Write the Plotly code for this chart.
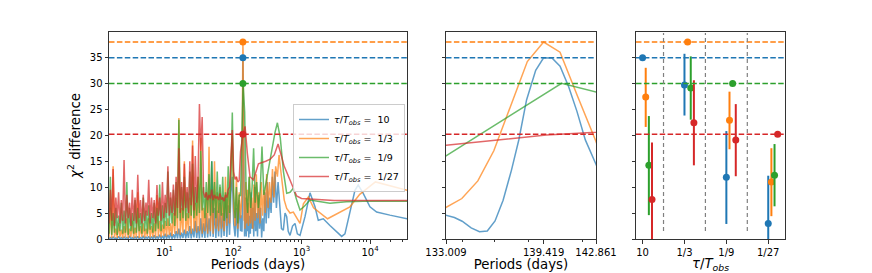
import plotly.graph_objects as go

# ---------------- data ----------------
series_labels = ["10", "1/3", "1/9", "1/27"]
colors = ["#1f77b4", "#ff7f0e", "#2ca02c", "#d62728"]
ref_period = 139.419
ref_chi2 = [34.94, 37.97, 29.97, 20.18]  # blue, orange, green, red

dense_periods = [1.549, 1.622, 1.698, 1.778, 1.862, 1.950, 2.042, 2.138, 2.239, 2.344,
                 2.455, 2.570, 2.692, 2.818, 2.951, 3.090, 3.236, 3.388, 3.548, 3.715,
                 3.890, 4.074, 4.266, 4.467, 4.677, 4.898, 5.129, 5.370, 5.623, 5.888,
                 6.166, 6.457, 6.761, 7.079, 7.413, 7.762, 8.128, 8.511, 8.913, 9.333,
                 9.772, 10.23, 10.72, 11.22, 11.75, 12.30, 12.88, 13.49, 14.13, 14.79,
                 15.49, 16.22, 16.98, 17.78, 18.62, 19.50, 20.42, 21.38, 22.39, 23.44,
                 24.55, 25.70, 26.92, 28.18, 29.51, 30.90, 32.36, 33.88, 35.48, 37.15,
                 38.90, 40.74, 42.66, 44.67, 46.77, 48.98, 51.29, 53.70, 56.23, 58.88,
                 61.66, 64.57, 67.61, 70.79, 74.13, 77.62, 81.28, 85.11, 89.13, 93.33,
                 97.72, 102.3, 107.2, 112.2, 117.5, 123.0, 128.8]

blue_dense = [0.05, 0.3, 0.02, 0.4, 0.05, 0.2, 0.03, 0.5, 0.05, 0.3,
              0.02, 0.4, 0.05, 0.3, 0.03, 0.6, 0.05, 0.3, 0.02, 0.4,
              0.05, 0.5, 0.03, 0.3, 0.05, 0.6, 0.02, 0.4, 0.05, 0.5,
              0.03, 0.4, 0.05, 0.7, 0.03, 0.5, 0.05, 0.8, 0.03, 0.6,
              0.05, 1.0, 0.05, 0.8, 0.1, 1.2, 0.05, 0.9, 0.1, 1.5,
              0.1, 2.0, 0.1, 1.2, 0.2, 1.8, 0.1, 1.5, 0.2, 2.5,
              0.1, 2.0, 0.3, 3.5, 0.2, 2.5, 0.1, 4.0, 0.3, 3.0,
              0.2, 5.0, 0.3, 4.0, 0.5, 15.0, 0.4, 6.0, 0.2, 5.5,
              0.5, 7.0, 0.3, 5.0, 0.6, 8.0, 0.4, 6.5, 0.8, 9.0,
              12.0, 3.0, 0.5, 6.0, 0.3, 7.5, 1.5]
orange_dense = [0.3, 6.0, 0.2, 14.0, 0.3, 2.0, 0.2, 3.0, 0.4, 1.8,
                0.2, 2.5, 0.3, 4.0, 0.2, 2.0, 0.4, 3.5, 0.2, 2.2,
                0.3, 9.0, 0.2, 2.5, 0.4, 3.0, 0.3, 2.0, 0.5, 4.0,
                0.3, 2.5, 0.4, 3.0, 0.3, 8.5, 0.5, 3.5, 0.4, 2.8,
                0.6, 3.5, 0.5, 4.0, 0.8, 3.0, 0.6, 5.0, 1.0, 8.0,
                1.0, 23.3, 0.8, 6.0, 1.2, 15.0, 1.0, 5.0, 1.5, 8.0,
                1.0, 19.0, 1.5, 7.0, 1.2, 12.0, 1.5, 19.5, 1.0, 6.0,
                1.5, 9.0, 1.0, 17.8, 1.5, 8.0, 1.0, 15.0, 2.0, 9.0,
                1.5, 10.0, 2.0, 8.0, 1.5, 12.0, 2.5, 9.0, 3.0, 15.0,
                20.0, 6.0, 2.5, 12.0, 2.0, 9.0, 4.0]
green_dense = [1.0, 12.0, 0.8, 5.0, 1.2, 6.0, 0.8, 4.5, 1.5, 7.0,
               1.0, 5.5, 1.2, 11.0, 0.8, 6.0, 1.5, 5.0, 1.0, 7.5,
               1.2, 6.0, 1.5, 5.0, 1.0, 8.0, 1.5, 5.5, 1.0, 6.5,
               1.8, 5.0, 1.2, 7.0, 1.5, 6.0, 2.0, 10.5, 1.5, 6.5,
               2.0, 7.0, 2.5, 13.0, 2.5, 8.0, 3.0, 9.5, 2.5, 11.0,
               4.0, 23.0, 3.5, 10.0, 4.0, 12.0, 3.5, 9.0, 4.0, 13.0,
               4.5, 14.5, 4.0, 10.0, 4.5, 12.0, 5.0, 17.0, 5.5, 10.0,
               4.0, 11.0, 5.0, 12.5, 4.5, 15.0, 5.0, 11.0, 4.0, 13.0,
               5.0, 10.5, 4.5, 12.0, 3.5, 9.0, 4.0, 14.0, 5.0, 12.0,
               24.4, 9.0, 4.0, 10.0, 3.0, 8.5, 8.3]
red_dense = [3.0, 9.5, 3.5, 13.5, 2.5, 8.0, 4.0, 9.0, 3.0, 7.5,
             3.5, 15.2, 3.0, 8.5, 4.0, 7.0, 2.5, 9.5, 3.5, 8.0,
             3.0, 12.4, 4.0, 7.5, 3.0, 8.5, 3.5, 7.0, 4.5, 11.4,
             3.0, 8.0, 4.0, 7.5, 3.0, 10.4, 4.5, 8.0, 3.5, 11.0,
             4.0, 8.5, 5.0, 14.0, 4.5, 9.0, 5.0, 10.5, 4.5, 12.0,
             6.0, 17.5, 5.0, 11.0, 5.5, 14.5, 6.0, 10.0, 5.0, 15.0,
             6.5, 18.0, 5.5, 16.0, 7.0, 11.5, 26.0, 17.0, 23.5, 9.0,
             8.0, 9.0, 7.5, 8.5, 7.8, 9.5, 7.5, 8.5, 7.8, 8.2,
             7.5, 8.8, 7.6, 8.0, 7.3, 8.5, 8.0, 9.5, 10.0, 14.5,
             21.0, 13.0, 11.5, 12.0, 11.0, 11.3, 16.8]

blue_peak_periods = [133.01, 133.56, 134.07, 134.66, 135.21, 135.72, 136.23, 136.76, 137.31, 137.79,
                     138.30, 138.90, 139.42, 139.97, 140.50, 141.06, 141.61, 142.16, 142.86]
blue_peak_chi2 = [4.58, 4.13, 3.42, 2.13, 1.42, 1.55, 3.48, 7.48, 13.28, 19.08,
                  26.8, 32.5, 34.94, 34.9, 33.3, 29.4, 24.6, 19.1, 14.4]
orange_peak_periods = [133.0, 134.05, 135.1, 136.15, 137.25, 138.35, 139.42, 140.5, 141.65, 142.86]
orange_peak_chi2 = [6.06, 7.8, 11.2, 17.0, 25.5, 34.2, 37.97, 36.0, 27.5, 18.8]
green_peak_periods = [140.6, 148.0]
green_peak_chi2 = [30.0, 24.5]
red_peak_periods = [139.6, 150.0]
red_peak_chi2 = [20.05, 21.7]

blue_tail_periods = [143.4, 144.0, 144.6, 145.3, 146.0, 147.5, 149.0, 151.0, 153.0, 156.0,
                     159.0, 162.0, 166.0, 170.0, 174.0, 179.0, 184.0, 189.0, 195.0, 201.0,
                     207.0, 214.0, 221.0, 228.0, 236.0, 244.0, 253.0, 262.0, 272.0, 282.0,
                     293.0, 305.0, 318.0, 331.0, 345.0, 360.0, 375.0, 392.0, 410.0, 430.0,
                     455.0, 486.0, 510.0, 543.0, 575.0, 608.0, 640.0, 680.0, 740.0, 804.0,
                     870.0, 951.0, 1040.0, 1125.0, 1330.0, 1574.0, 1758.0, 2080.0, 2600.0, 3260.0,
                     3855.0, 4305.0, 5090.0, 6030.0, 6730.0, 7960.0, 9980.0, 12500.0, 19500.0, 35000.0]
blue_tail_chi2 = [10.5, 6.0, 3.0, 1.0, 4.0, 0.5, 6.0, 1.0, 8.0, 0.5,
                  5.0, 1.5, 7.0, 0.3, 4.5, 1.0, 9.0, 2.0, 6.0, 0.5,
                  10.0, 1.5, 5.0, 0.5, 8.5, 2.0, 6.0, 0.3, 4.0, 1.5,
                  9.0, 3.0, 11.0, 4.0, 8.0, 5.0, 12.0, 7.0, 13.0, 6.0,
                  11.0, 5.5, 2.0, 1.7, 5.0, 4.3, 1.5, 0.7, 2.5, 3.0,
                  1.0, 0.7, 2.5, 4.3, 8.9, 6.2, 3.6, 3.9, 2.6, 1.4,
                  0.5, 1.0, 5.0, 9.4, 10.4, 8.8, 6.2, 5.2, 4.6, 3.9]
orange_tail_periods = [144.0, 145.1, 147.0, 150.0, 154.0, 158.0, 163.0, 168.0, 174.0, 180.0,
                       187.0, 194.0, 202.0, 210.0, 219.0, 228.0, 238.0, 248.0, 259.0, 270.0,
                       283.0, 296.0, 310.0, 325.0, 341.0, 358.0, 377.0, 397.0, 420.0, 445.0,
                       470.0, 495.0, 525.0, 560.0, 608.0, 680.0, 760.0, 850.0, 951.0, 1065.0,
                       1260.0, 1500.0, 2400.0, 5090.0, 7080.0, 12000.0, 35000.0]
orange_tail_chi2 = [9.0, 3.5, 8.0, 2.0, 11.0, 3.0, 9.5, 2.5, 12.0, 3.0,
                    8.0, 2.0, 10.5, 3.5, 12.5, 4.0, 9.0, 3.0, 11.0, 4.5,
                    9.5, 5.0, 12.5, 6.0, 11.0, 7.0, 13.5, 8.0, 14.0, 12.0,
                    16.2, 13.5, 10.5, 7.5, 5.9, 5.0, 5.2, 4.2, 3.0, 6.8,
                    8.1, 6.0, 3.9, 6.2, 8.6, 11.0, 9.4]
green_tail_periods = [155.5, 163.0, 172.0, 181.0, 190.0, 200.0, 211.0, 222.0, 235.0, 250.0,
                      265.0, 282.0, 300.0, 320.0, 345.0, 375.0, 410.0, 445.0, 490.0, 545.0,
                      608.0, 680.0, 760.0, 850.0, 951.0, 1100.0, 1330.0, 2600.0, 4500.0, 8000.0,
                      35000.0]
green_tail_chi2 = [9.0, 5.0, 12.0, 6.0, 10.0, 17.5, 7.0, 11.0, 6.0, 9.5,
                   17.8, 8.5, 10.5, 12.5, 14.5, 17.0, 20.5, 22.4, 19.5, 13.0,
                   8.8, 9.0, 9.8, 7.5, 5.6, 6.3, 7.5, 6.9, 7.2, 7.3,
                   7.3]
red_tail_periods = [162.0, 177.0, 199.0, 235.0, 300.0, 350.0, 400.0, 455.0, 560.0, 700.0,
                    850.0, 1000.0, 1500.0, 3000.0, 35000.0]
red_tail_chi2 = [16.5, 12.0, 11.4, 14.5, 15.0, 15.4, 16.2, 18.3, 14.0, 11.0,
                 8.3, 7.8, 7.6, 7.4, 7.4]

# right panel: best value and interval per tau/T_obs category
blue_best = [34.94, 29.7, 11.9, 3.0]
blue_low = [34.94, 23.8, 2.9, 0.0]
blue_high = [34.94, 35.7, 20.8, 12.2]
orange_best = [27.35, 37.97, 22.9, 11.0]
orange_low = [21.6, 37.97, 17.3, 4.4]
orange_high = [33.0, 37.97, 28.4, 17.5]
green_best = [14.2, 29.1, 29.97, 12.3]
green_low = [4.6, 23.0, 29.97, 6.3]
green_high = [23.7, 35.2, 29.97, 18.3]
red_best = [7.6, 22.4, 19.1, 20.18]
red_low = [0.0, 14.2, 12.1, 20.18]
red_high = [18.6, 30.6, 26.0, 20.18]

# ---------------- assemble ----------------
periods = [
    dense_periods + blue_peak_periods + blue_tail_periods,
    dense_periods + orange_peak_periods + orange_tail_periods,
    dense_periods + green_peak_periods + green_tail_periods,
    dense_periods + red_peak_periods + red_tail_periods,
]
chi2 = [
    blue_dense + blue_peak_chi2 + blue_tail_chi2,
    orange_dense + orange_peak_chi2 + orange_tail_chi2,
    green_dense + green_peak_chi2 + green_tail_chi2,
    red_dense + red_peak_chi2 + red_tail_chi2,
]
best = [blue_best, orange_best, green_best, red_best]
low = [blue_low, orange_low, green_low, red_low]
high = [blue_high, orange_high, green_high, red_high]

FONT = "DejaVu Sans"
fig = go.Figure()

leg_names = ["<i>τ</i>/<i>T<sub>obs</sub></i> =\u00a0 " + s for s in series_labels]

for i in range(4):
    fig.add_trace(go.Scatter(x=periods[i], y=chi2[i], mode="lines", name=leg_names[i],
                             line=dict(color=colors[i], width=1.5), opacity=0.7,
                             xaxis="x", yaxis="y"))
for i in range(4):
    fig.add_trace(go.Scatter(x=[ref_period], y=[ref_chi2[i]], mode="markers", showlegend=False,
                             marker=dict(color=colors[i], size=7), xaxis="x", yaxis="y"))
for i in range(4):
    fig.add_trace(go.Scatter(x=periods[i], y=chi2[i], mode="lines", showlegend=False,
                             line=dict(color=colors[i], width=1.5), opacity=0.7,
                             xaxis="x2", yaxis="y2"))

offsets = [0.0, 0.075, 0.15, 0.225]
for i in range(4):
    xs = [k + offsets[i] for k in range(4)]
    plus = [h - b for h, b in zip(high[i], best[i])]
    minus = [b - l for b, l in zip(best[i], low[i])]
    fig.add_trace(go.Scatter(x=xs, y=best[i], mode="markers", showlegend=False,
                             marker=dict(color=colors[i], size=7),
                             error_y=dict(type="data", symmetric=False, array=plus, arrayminus=minus,
                                          color=colors[i], thickness=2, width=0),
                             xaxis="x3", yaxis="y3"))

shapes = []
for xa, ya in [("x", "y"), ("x2", "y2"), ("x3", "y3")]:
    for i in range(4):
        shapes.append(dict(type="line", xref=xa + " domain", yref=ya, x0=0, x1=1,
                           y0=ref_chi2[i], y1=ref_chi2[i],
                           line=dict(color=colors[i], width=1.5, dash="5.5px,2.4px")))
for xv in [0.5, 1.5, 2.5]:
    shapes.append(dict(type="line", xref="x3", yref="y3", x0=xv, x1=xv, y0=1.55, y1=39.7,
                       line=dict(color="#808080", width=1.2, dash="4px,3px")))

W, H = 872, 273
ydom = [1 - 239 / H, 1 - 32 / H]
yr = [0, 39.9]
axis_common = dict(showline=True, linecolor="#333333", linewidth=1, mirror=True,
                   ticks="outside", ticklen=3.5, tickwidth=0.8, tickcolor="#333333",
                   showgrid=False, zeroline=False,
                   tickfont=dict(family=FONT, size=10, color="black"))
minor_vals = [m * 10 ** e for e in range(0, 5) for m in range(2, 10)]

fig.update_layout(
    width=W, height=H, margin=dict(l=0, r=0, t=0, b=0),
    plot_bgcolor="white", paper_bgcolor="white",
    font=dict(family=FONT, color="black"),
    shapes=shapes,
    xaxis=dict(axis_common, type="log", domain=[109 / W, 407 / W], range=[0.19, 4.54],
               tickvals=[10, 100, 1000, 10000],
               ticktext=["10<sup>1</sup>", "10<sup>2</sup>", "10<sup>3</sup>", "10<sup>4</sup>"],
               minor=dict(tickvals=minor_vals, ticks="outside", ticklen=2, tickcolor="#333333"),
               title=dict(text="Periods (days)", font=dict(size=13.3), standoff=3),
               anchor="y", automargin=False),
    yaxis=dict(axis_common, domain=ydom, range=yr, tickvals=[0, 5, 10, 15, 20, 25, 30, 35],
               title=dict(text="<i>χ</i><sup>2</sup> difference", font=dict(size=13.3), standoff=6),
               anchor="x", automargin=False),
    xaxis2=dict(axis_common, domain=[446 / W, 596 / W], range=[133.009, 142.861],
                tickvals=[133.009, 139.419, 142.861], ticktext=["133.009", "139.419", "142.861"],
                minor=dict(tickvals=[134.1, 136.2, 138.4, 142.0], ticks="outside", ticklen=2,
                           tickcolor="#333333"),
                title=dict(text="Periods (days)", font=dict(size=13.3), standoff=3),
                anchor="y2", automargin=False),
    yaxis2=dict(axis_common, domain=ydom, range=yr, tickvals=[0, 5, 10, 15, 20, 25, 30, 35],
                showticklabels=False, anchor="x2", automargin=False),
    xaxis3=dict(axis_common, domain=[636 / W, 785 / W], range=[-0.157, 3.40],
                tickvals=[0, 1, 2, 3], ticktext=series_labels,
                title=dict(text="<i>τ</i>/<i>T<sub>obs</sub></i>", font=dict(size=13.3), standoff=3),
                anchor="y3", automargin=False),
    yaxis3=dict(axis_common, domain=ydom, range=yr, tickvals=[0, 5, 10, 15, 20, 25, 30, 35],
                showticklabels=False, anchor="x3", automargin=False),
    legend=dict(x=293 / W, y=1 - 104 / H, xanchor="left", yanchor="top",
                bgcolor="rgba(255,255,255,0.8)", bordercolor="#cccccc", borderwidth=1,
                font=dict(family=FONT, size=9.5), itemwidth=30, tracegroupgap=0),
)

fig.write_html("out.html", config={"displayModeBar": False},
               post_script="document.body.style.margin='0';")
